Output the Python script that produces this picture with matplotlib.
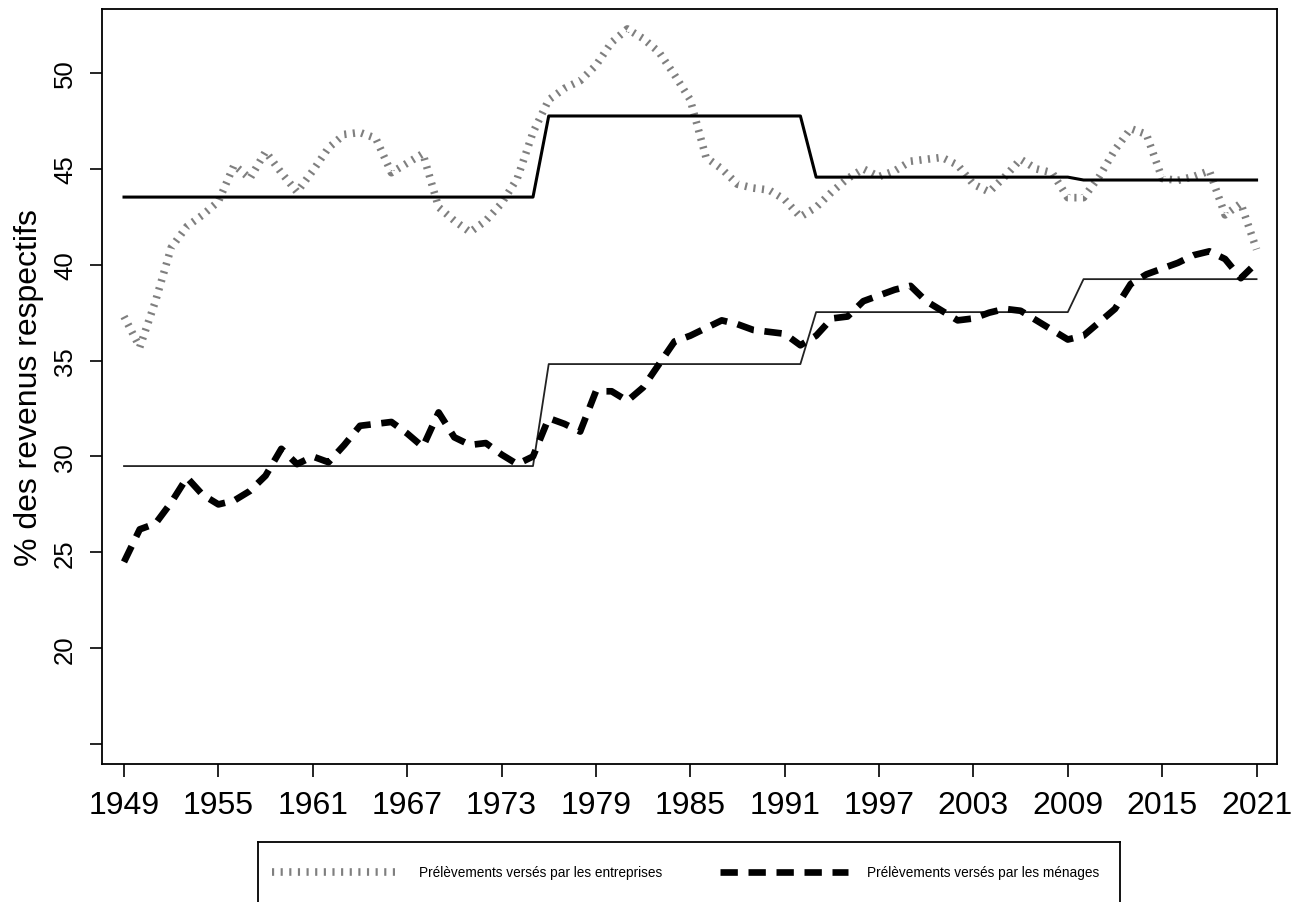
import numpy as np
import matplotlib
matplotlib.use("Agg")
import matplotlib.pyplot as plt
from matplotlib.lines import Line2D

plt.rcParams['font.family'] = ['Liberation Sans', 'DejaVu Sans']

years = np.arange(1949, 2022)

entreprises = [37.3,
    35.7, 38.1, 40.9, 42.0, 42.6, 43.3, 45.2, 44.5, 45.9, 44.8,
    43.8, 44.9, 46.1, 46.8, 46.9, 46.6, 44.8, 45.3, 45.8, 43.0,
    42.3, 41.7, 42.3, 43.2, 44.5, 46.9, 48.6, 49.2, 49.6, 50.4,
    51.6, 52.3, 51.8, 51.1, 49.9, 48.6, 45.6, 45.0, 44.2, 44.0,
    43.9, 43.4, 42.5, 43.0, 43.8, 44.5, 45.0, 44.6, 44.9, 45.4,
    45.5, 45.6, 45.2, 44.2, 43.8, 44.6, 45.5, 45.0, 44.8, 43.5,
    43.5, 44.6, 46.0, 47.1, 46.8, 44.5, 44.4, 44.6, 44.9, 42.6,
    43.2, 40.8]

menages = [24.5,
    26.2, 26.5, 27.6, 28.9, 28.0, 27.5, 27.7, 28.2, 29.0, 30.4,
    29.6, 30.0, 29.7, 30.6, 31.6, 31.7, 31.8, 31.2, 30.5, 32.3,
    31.0, 30.6, 30.7, 30.1, 29.6, 30.0, 32.0, 31.7, 31.3, 33.4,
    33.4, 32.9, 33.6, 34.8, 36.0, 36.3, 36.7, 37.1, 36.9, 36.6,
    36.5, 36.4, 35.8, 36.3, 37.2, 37.3, 38.1, 38.4, 38.7, 38.9,
    38.1, 37.6, 37.1, 37.2, 37.5, 37.7, 37.6, 37.1, 36.6, 36.1,
    36.3, 37.0, 37.7, 39.0, 39.5, 39.8, 40.1, 40.5, 40.7, 40.3,
    39.3, 40.1]

period_starts = [1949, 1976, 1993, 2010]
period_ends = [1975, 1992, 2009, 2021]
ent_means = [43.53, 47.76, 44.57, 44.42]
men_means = [29.5, 34.82, 37.53, 39.25]

xticks = list(range(1949, 2022, 6))
yticks = [15, 20, 25, 30, 35, 40, 45, 50]
yticklabels = ['', '20', '25', '30', '35', '40', '45', '50']

label_ent = "Prélèvements versés par les entreprises"
label_men = "Prélèvements versés par les ménages"
ylabel = "% des revenus respectifs"

def steps(means):
    out = np.empty(len(years))
    for s, e, m in zip(period_starts, period_ends, means):
        out[(years >= s) & (years <= e)] = m
    return out

W, H = 1304, 903
fig = plt.figure(figsize=(W / 100, H / 100), dpi=100)
ax = fig.add_axes([102 / W, (H - 765) / H, (1277 - 102) / W, (765 - 10) / H])

ent_style = dict(color='#7f7f7f', lw=5.5, dashes=(0.28, 0.85), dash_capstyle='butt')
men_style = dict(color='black', lw=4.8, dashes=(2.6, 1.6), dash_capstyle='butt')

ax.plot(years, entreprises, **ent_style)
ax.plot(years, steps(men_means), color='#222222', lw=1.3)
ax.plot(years, menages, **men_style)
ax.plot(years, steps(ent_means), color='black', lw=2.2)

ax.set_xlim(1947.6, 2022.3)
ax.set_ylim(13.96, 53.34)
ax.set_xticks(xticks)
ax.set_yticks(yticks)
ax.set_yticklabels(yticklabels, rotation=90, va='center')
ax.tick_params(axis='both', direction='out', length=9, width=1.2)
ax.tick_params(axis='x', labelsize=23, pad=10)
ax.tick_params(axis='y', labelsize=18.5, pad=9)
for sp in ax.spines.values():
    sp.set_linewidth(1.3)
ax.set_ylabel(ylabel, fontsize=23, labelpad=4)
ax.yaxis.set_label_coords(-(102 - 44) / (1277 - 102), 0.5)

# legend box
lax = fig.add_axes([258 / W, -30 / H, (1120 - 258) / W, (H - 843 + 30) / H])
lax.set_xlim(0, 862)
lax.set_ylim(0, H - 843 + 30)
lax.set_xticks([])
lax.set_yticks([])
for sp in lax.spines.values():
    sp.set_linewidth(1.3)
yc = H - 873 + 30
lax.add_line(Line2D([272 - 258, 400 - 258], [yc, yc], **ent_style))
lax.add_line(Line2D([720 - 258, 848 - 258], [yc, yc], **men_style))
lax.text(419 - 258, yc, label_ent, fontsize=9.8, va='center', ha='left')
lax.text(867 - 258, yc, label_men, fontsize=9.8, va='center', ha='left')

fig.savefig('out.png', dpi=100)
